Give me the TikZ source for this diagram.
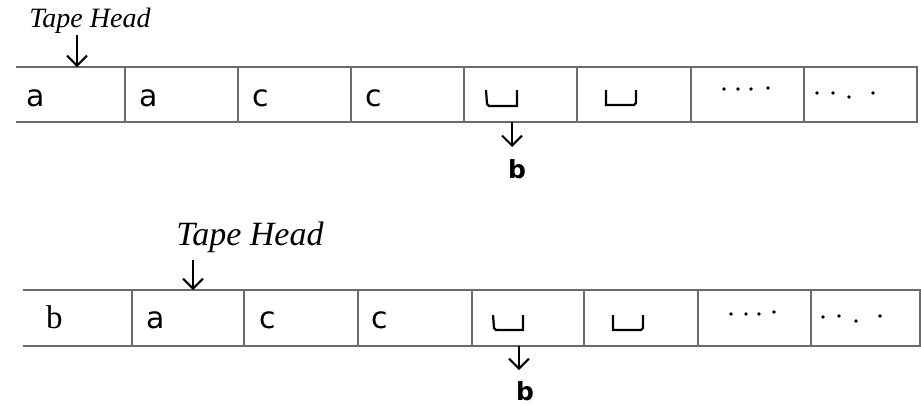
\documentclass[tikz,border=0pt]{standalone}
\usepackage{fontspec}
\setmainfont{Liberation Serif}
\newfontfamily\cellfont{DejaVu Sans}
\usetikzlibrary{arrows.meta}
\begin{document}
\begin{tikzpicture}[x=1pt,y=-1pt,
  tapeline/.style={draw=black!58,line width=1.8pt},
  headlabel/.style={font=\itshape\fontsize{#1}{#1}\selectfont,inner sep=0pt},
  headarrow/.style={draw=black,line width=2pt,-{Straight Barb[length=10pt,width=20pt,line width=2pt]}},
  sym/.style={font=\cellfont\fontsize{30}{30}\selectfont,inner sep=0pt,anchor=base west},
  serifsym/.style={font=\fontsize{33}{33}\selectfont,inner sep=0pt,anchor=base west},
  blankmark/.style={draw=black,line width=2.2pt,line join=miter},
  dotmark/.style={fill=black,draw=none},
  outsym/.style={font=\cellfont\bfseries\fontsize{25}{25}\selectfont,inner sep=0pt}]
\useasboundingbox (0,0) rectangle (921,405);

% ---------- top tape ----------
\draw[tapeline] (16,67) -- (917,67) -- (917,122) -- (16,122);
\foreach \x in {125,238,351,464,577,691,804}
  \draw[tapeline] (\x,67) -- (\x,122);

\node[headlabel=28] (th1) at (90,21) {Tape Head};
\coordinate (h1) at (77,67);
\draw[headarrow] (77,35) -- (h1);

\node[sym] (t1) at (26,106) {a};
\node[sym] (t2) at (139,106) {a};
\node[sym] (t3) at (252,106) {c};
\node[sym] (t4) at (365,106) {c};

\draw[blankmark] (486,90) -- (487,104) -- (489,106) -- (517,106) -- (517,90);
\draw[blankmark] (606,90) -- (606,105) -- (634,105) -- (636,103) -- (636,90);

\foreach \x/\y in {724/89,738/89,751/89,768/88,817/93,833/93,849/97,873/93}
  \fill[dotmark] (\x,\y) circle (1.8);

\coordinate (w1) at (512,122);
\node[outsym] (b1) at (517,169) {b};
\draw[headarrow] (w1) -- (512,147);

% ---------- bottom tape ----------
\draw[tapeline] (23,290) -- (920,290) -- (920,346) -- (23,346);
\foreach \x in {132,244,358,472,584,698,811}
  \draw[tapeline] (\x,290) -- (\x,346);

\node[headlabel=34] (th2) at (250,237) {Tape Head};
\coordinate (h2) at (193,290);
\draw[headarrow] (193,260) -- (h2);

\node[serifsym] (u1) at (46,328) {b};
\node[sym] (u2) at (146,328) {a};
\node[sym] (u3) at (259,328) {c};
\node[sym] (u4) at (371,328) {c};

\draw[blankmark] (493,315) -- (494,328) -- (496,330) -- (523,330) -- (523,315);
\draw[blankmark] (613,315) -- (613,330) -- (641,330) -- (643,328) -- (643,315);

\foreach \x/\y in {731/314,746/314,759/314,774/312,823/317,839/316,856/321,880/316}
  \fill[dotmark] (\x,\y) circle (1.8);

\coordinate (w2) at (519,346);
\node[outsym] (b2) at (525,391) {b};
\draw[headarrow] (w2) -- (519,370);
\end{tikzpicture}
\end{document}
